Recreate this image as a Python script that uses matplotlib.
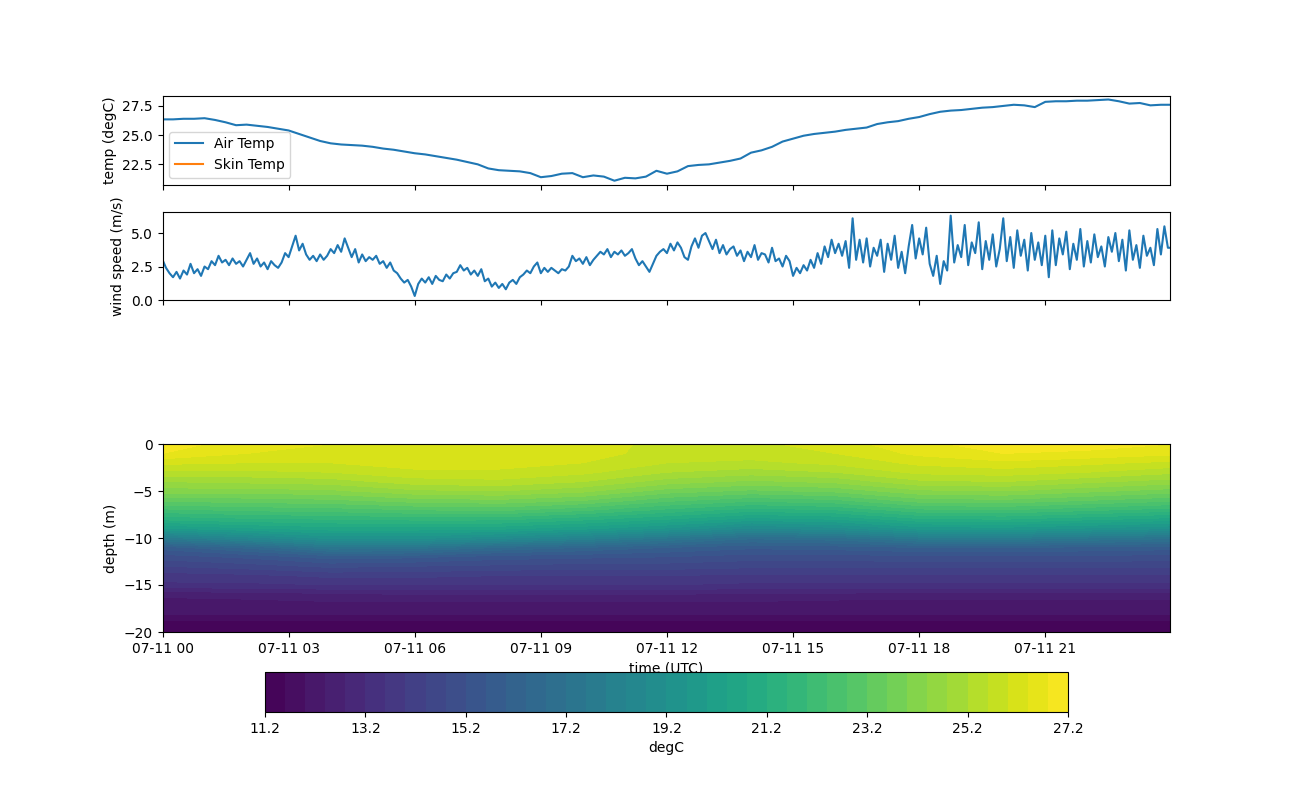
import numpy as np
import pandas as pd
import matplotlib
matplotlib.use("Agg")
import matplotlib.pyplot as plt
import matplotlib.dates as mdates

# 気温 (15分ごと, 07-11 00:00 から)
air_temp = [
    26.35, 26.35, 26.4, 26.4,
    26.45, 26.3, 26.1, 25.85,
    25.9, 25.8, 25.7, 25.55,
    25.4, 25.1, 24.8, 24.5,
    24.3, 24.2, 24.15, 24.1,
    24.0, 23.85, 23.75, 23.6,
    23.45, 23.35, 23.2, 23.05,
    22.9, 22.7, 22.5, 22.15,
    22.0, 21.95, 21.9, 21.75,
    21.4, 21.5, 21.7, 21.75,
    21.4, 21.55, 21.45, 21.1,
    21.35, 21.3, 21.45, 21.95,
    21.7, 21.9, 22.35, 22.45,
    22.5, 22.65, 22.8, 23.0,
    23.5, 23.7, 24.0, 24.45,
    24.7, 24.95, 25.1, 25.2,
    25.3, 25.45, 25.55, 25.65,
    25.95, 26.1, 26.2, 26.4,
    26.55, 26.8, 27.0, 27.1,
    27.15, 27.25, 27.35, 27.4,
    27.5, 27.6, 27.55, 27.4,
    27.85, 27.9, 27.9, 27.95,
    27.95, 28.0, 28.05, 27.9,
    27.7, 27.75, 27.55, 27.6,
    27.6,
]
skin_temp = [np.nan] * len(air_temp)  # 欠測

# 風速 (5分ごと)
wind_speed = [
    3.0, 2.4, 2.0, 1.7, 2.1, 1.6, 2.2, 1.9, 2.7, 2.0, 2.3, 1.8,
    2.5, 2.3, 2.9, 2.6, 3.3, 2.8, 3.0, 2.6, 3.1, 2.7, 2.9, 2.5,
    3.0, 3.5, 2.7, 3.1, 2.5, 2.8, 2.3, 2.9, 2.6, 2.4, 2.8, 3.5,
    3.2, 4.0, 4.8, 3.7, 4.2, 3.4, 3.0, 3.3, 2.9, 3.4, 3.0, 3.3,
    3.8, 3.5, 4.1, 3.6, 4.6, 3.9, 3.2, 3.8, 2.8, 3.4, 2.9, 3.2,
    3.0, 3.3, 2.7, 2.9, 2.4, 2.8, 2.2, 2.0, 1.6, 1.3, 1.5, 1.0,
    0.3, 1.2, 1.6, 1.3, 1.7, 1.2, 1.8, 1.5, 1.4, 1.9, 1.6, 2.0,
    2.1, 2.6, 2.2, 2.4, 1.9, 2.2, 1.8, 2.3, 1.4, 1.6, 1.0, 1.3,
    0.9, 1.2, 0.8, 1.3, 1.5, 1.2, 1.7, 1.9, 2.2, 2.0, 2.5, 2.8,
    2.0, 2.4, 2.1, 2.4, 2.2, 2.0, 2.3, 2.2, 2.5, 3.3, 2.9, 3.1,
    2.7, 3.2, 2.6, 3.0, 3.3, 3.6, 3.4, 3.8, 3.2, 3.6, 3.4, 3.7,
    3.3, 3.5, 3.8, 3.1, 2.6, 2.9, 2.5, 2.1, 2.7, 3.3, 3.6, 3.8,
    3.5, 4.2, 3.7, 4.3, 3.9, 3.2, 3.0, 4.0, 4.6, 3.9, 4.8, 5.0,
    4.4, 3.8, 4.5, 3.5, 4.1, 3.4, 3.8, 4.0, 3.3, 3.7, 2.9, 3.6,
    3.2, 4.1, 3.0, 3.5, 3.4, 2.8, 3.9, 2.9, 3.1, 2.5, 3.3, 2.9,
    1.8, 2.4, 2.0, 2.6, 2.2, 3.0, 2.4, 3.5, 2.7, 4.0, 3.2, 4.5,
    3.5, 4.2, 3.3, 4.4, 2.4, 6.1, 3.0, 4.5, 2.8, 4.6, 2.5, 3.9,
    3.3, 4.5, 2.1, 4.2, 3.0, 4.8, 2.4, 3.6, 2.0, 4.0, 5.6, 3.1,
    4.6, 3.4, 5.4, 2.7, 1.8, 3.3, 1.2, 2.9, 2.2, 6.3, 2.8, 4.1,
    3.2, 5.6, 2.6, 4.3, 3.5, 5.8, 2.3, 4.4, 3.0, 4.9, 2.5, 3.8,
    6.1, 2.9, 4.7, 2.4, 5.2, 3.3, 4.5, 2.2, 5.0, 3.0, 4.3, 2.6,
    4.8, 1.7, 5.2, 2.6, 4.6, 3.4, 5.1, 2.3, 4.2, 3.0, 5.3, 2.5,
    4.4, 2.8, 4.9, 3.2, 4.0, 2.5, 4.7, 3.6, 5.0, 2.9, 4.5, 2.2,
    5.2, 3.0, 4.1, 2.4, 4.8, 3.3, 3.9, 2.6, 5.3, 3.4, 5.5, 3.9,
    3.9,
]

# 水温プロファイル (2時間ごと, 深さ 0〜-20m, 1m刻み)
depths = [0, -1, -2, -3, -4, -5, -6, -7, -8, -9, -10,
          -11, -12, -13, -14, -15, -16, -17, -18, -19, -20]
profile_hours = [0, 2, 4, 6, 8, 10, 12, 14, 16, 18, 20, 22, 24]
water_temp = [
    [27.0, 26.8, 26.1, 25.5, 24.8, 24.2, 23.3, 22.3, 21.3, 19.9, 17.8, 15.8, 15.0, 14.4, 13.8, 13.5, 12.5, 12.2, 12.1, 11.5, 11.4],
    [26.6, 26.4, 26.0, 25.5, 24.9, 24.2, 23.4, 22.5, 21.5, 20.3, 18.6, 16.5, 15.3, 14.6, 13.9, 13.5, 12.6, 12.2, 12.1, 11.5, 11.4],
    [26.4, 26.3, 26.0, 25.6, 25.0, 24.3, 23.5, 22.6, 21.6, 20.6, 19.3, 17.5, 15.8, 14.9, 14.1, 13.6, 12.7, 12.3, 12.1, 11.5, 11.4],
    [26.3, 26.3, 26.2, 25.9, 25.4, 24.7, 23.8, 22.8, 21.7, 20.6, 19.3, 17.4, 15.7, 14.8, 14.1, 13.6, 12.8, 12.3, 12.1, 11.5, 11.4],
    [26.4, 26.3, 26.2, 25.9, 25.5, 24.8, 23.9, 22.9, 21.7, 20.5, 18.9, 16.8, 15.4, 14.7, 14.0, 13.6, 12.8, 12.3, 12.1, 11.5, 11.4],
    [26.3, 26.2, 26.0, 25.7, 25.2, 24.5, 23.6, 22.5, 21.3, 20.1, 18.3, 16.4, 15.3, 14.6, 14.0, 13.6, 12.8, 12.3, 12.1, 11.5, 11.4],
    [25.8, 25.8, 25.6, 25.2, 24.6, 23.8, 22.9, 21.9, 20.8, 19.5, 17.6, 16.0, 15.2, 14.6, 14.0, 13.6, 12.8, 12.3, 12.1, 11.5, 11.4],
    [25.9, 25.8, 25.5, 25.0, 24.3, 23.5, 22.5, 21.4, 20.2, 18.7, 16.9, 15.7, 15.0, 14.5, 13.9, 13.5, 12.7, 12.3, 12.1, 11.5, 11.4],
    [26.2, 26.0, 25.7, 25.2, 24.5, 23.7, 22.7, 21.6, 20.4, 19.0, 17.1, 15.8, 15.0, 14.5, 13.9, 13.5, 12.7, 12.2, 12.1, 11.5, 11.4],
    [26.7, 26.5, 26.1, 25.7, 25.1, 24.3, 23.4, 22.3, 21.1, 19.7, 17.8, 16.0, 15.1, 14.5, 13.9, 13.5, 12.6, 12.2, 12.1, 11.5, 11.4],
    [27.0, 26.8, 26.3, 25.8, 25.2, 24.4, 23.5, 22.4, 21.2, 19.8, 17.9, 16.0, 15.1, 14.5, 13.9, 13.5, 12.6, 12.2, 12.1, 11.5, 11.4],
    [27.0, 26.7, 26.1, 25.6, 24.9, 24.1, 23.2, 22.1, 20.9, 19.5, 17.6, 15.9, 15.1, 14.5, 13.9, 13.5, 12.6, 12.2, 12.1, 11.5, 11.4],
    [26.8, 26.5, 25.9, 25.3, 24.6, 23.8, 22.9, 21.8, 20.6, 19.2, 17.3, 15.8, 15.0, 14.5, 13.9, 13.5, 12.6, 12.2, 12.1, 11.5, 11.4],
]

start = pd.Timestamp("2023-07-11 00:00")
end = pd.Timestamp("2023-07-11 23:58")
temp_times = pd.date_range(start, periods=len(air_temp), freq="15min")
wind_times = pd.date_range(start, periods=len(wind_speed), freq="5min")
profile_times = [start + pd.Timedelta(hours=h) for h in profile_hours]

fig = plt.figure(figsize=(13, 8), dpi=100)
ax1 = fig.add_axes([0.125, 0.769, 0.775, 0.111])
ax2 = fig.add_axes([0.125, 0.625, 0.775, 0.110], sharex=ax1)
ax3 = fig.add_axes([0.125, 0.210, 0.775, 0.235], sharex=ax1)
cax = fig.add_axes([0.2038, 0.110, 0.6177, 0.050])

# 気温
ax1.plot(temp_times, air_temp, label="Air Temp")
ax1.plot(temp_times, skin_temp, label="Skin Temp")
ax1.set_ylabel("temp (degC)")
ax1.set_ylim(20.75, 28.35)
ax1.legend(loc="lower left")
ax1.tick_params(labelbottom=False)

# 風速
ax2.plot(wind_times, wind_speed)
ax2.set_ylabel("wind speed (m/s)")
ax2.set_ylim(0, 6.57)
ax2.tick_params(labelbottom=False)

# 水温断面
levels = np.linspace(11.2, 27.2, 41)
Z = np.array(water_temp).T
cs = ax3.contourf(profile_times, depths, Z, levels=levels, cmap="viridis")
ax3.set_ylabel("depth (m)")
ax3.set_xlabel("time (UTC)")
ax3.set_ylim(-20, 0)
ax3.set_yticks([0, -5, -10, -15, -20])

ax3.set_xlim(start, end)
ax3.xaxis.set_major_locator(mdates.HourLocator(byhour=range(0, 24, 3)))
ax3.xaxis.set_major_formatter(mdates.DateFormatter("%m-%d %H"))

cb = fig.colorbar(cs, cax=cax, orientation="horizontal")
cb.set_ticks(np.linspace(11.2, 27.2, 9))
cb.set_ticklabels([f"{v:.1f}" for v in np.linspace(11.2, 27.2, 9)])
cb.set_label("degC")

plt.savefig("out.png")
plt.close()
